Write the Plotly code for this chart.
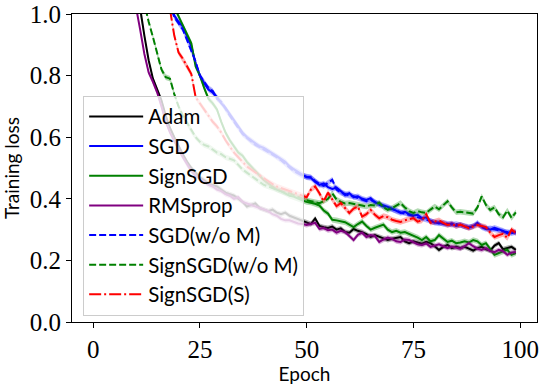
import plotly.graph_objects as go

epochs = list(range(100))

adam = [
    2.35, 2.15, 1.97, 1.81, 1.67, 1.54, 1.43, 1.32, 1.22, 1.14,
    1.08, 1.02, 0.93, 0.85, 0.79, 0.755, 0.72, 0.67, 0.63, 0.60,
    0.57, 0.545, 0.52, 0.50, 0.485, 0.47, 0.46, 0.45, 0.445, 0.44,
    0.43, 0.42, 0.415, 0.41, 0.40, 0.39, 0.375, 0.38, 0.385, 0.37,
    0.365, 0.36, 0.365, 0.355, 0.35, 0.355, 0.345, 0.34, 0.335, 0.33,
    0.325, 0.318, 0.336, 0.312, 0.308, 0.305, 0.310, 0.300, 0.304, 0.292,
    0.290, 0.302, 0.296, 0.292, 0.285, 0.276, 0.282, 0.276, 0.272, 0.266,
    0.270, 0.274, 0.276, 0.262, 0.256, 0.262, 0.258, 0.254, 0.260, 0.256,
    0.246, 0.234, 0.244, 0.250, 0.240, 0.244, 0.240, 0.244, 0.238, 0.232,
    0.240, 0.244, 0.236, 0.232, 0.248, 0.256, 0.236, 0.240, 0.244, 0.234,
]
sgd = [
    2.40, 2.25, 2.12, 2.00, 1.89, 1.79, 1.70, 1.61, 1.53, 1.46,
    1.39, 1.33, 1.27, 1.22, 1.17, 1.13, 1.10, 1.07, 1.035, 0.995,
    0.975, 0.96, 0.93, 0.895, 0.84, 0.80, 0.775, 0.755, 0.745, 0.73,
    0.71, 0.695, 0.675, 0.655, 0.635, 0.615, 0.60, 0.59, 0.578, 0.57,
    0.565, 0.556, 0.548, 0.54, 0.53, 0.52, 0.505, 0.495, 0.488, 0.478,
    0.47, 0.468, 0.455, 0.445, 0.450, 0.438, 0.432, 0.436, 0.425, 0.412,
    0.418, 0.405, 0.408, 0.400, 0.396, 0.402, 0.388, 0.384, 0.380, 0.374,
    0.368, 0.360, 0.354, 0.358, 0.350, 0.346, 0.348, 0.337, 0.340, 0.328,
    0.322, 0.324, 0.318, 0.316, 0.320, 0.312, 0.316, 0.310, 0.306, 0.312,
    0.318, 0.310, 0.304, 0.300, 0.306, 0.302, 0.296, 0.288, 0.294, 0.290,
]
signsgd = [
    2.45, 2.30, 2.17, 2.05, 1.94, 1.84, 1.74, 1.65, 1.57, 1.49,
    1.42, 1.36, 1.30, 1.25, 1.20, 1.16, 1.12, 1.08, 1.05, 1.02,
    0.995, 0.965, 0.935, 0.905, 0.83, 0.80, 0.76, 0.725, 0.71, 0.69,
    0.65, 0.615, 0.59, 0.57, 0.55, 0.54, 0.52, 0.505, 0.49, 0.475,
    0.46, 0.45, 0.44, 0.43, 0.425, 0.418, 0.41, 0.407, 0.40, 0.395,
    0.39, 0.388, 0.384, 0.378, 0.362, 0.352, 0.332, 0.330, 0.326, 0.324,
    0.316, 0.308, 0.318, 0.326, 0.312, 0.300, 0.306, 0.312, 0.316, 0.300,
    0.292, 0.296, 0.290, 0.292, 0.286, 0.282, 0.274, 0.266, 0.276, 0.262,
    0.266, 0.282, 0.270, 0.260, 0.264, 0.256, 0.258, 0.262, 0.258, 0.266,
    0.262, 0.250, 0.256, 0.236, 0.218, 0.224, 0.228, 0.234, 0.218, 0.224,
]
rmsprop = [
    2.30, 2.10, 1.92, 1.76, 1.62, 1.50, 1.39, 1.28, 1.18, 1.10,
    1.03, 0.95, 0.87, 0.81, 0.78, 0.745, 0.70, 0.65, 0.615, 0.585,
    0.56, 0.535, 0.51, 0.49, 0.475, 0.465, 0.455, 0.445, 0.44, 0.43,
    0.425, 0.415, 0.41, 0.40, 0.405, 0.39, 0.385, 0.38, 0.375, 0.37,
    0.365, 0.36, 0.35, 0.345, 0.335, 0.33, 0.33, 0.325, 0.32, 0.318,
    0.315, 0.318, 0.322, 0.302, 0.305, 0.298, 0.300, 0.290, 0.296, 0.292,
    0.280, 0.266, 0.283, 0.290, 0.276, 0.282, 0.279, 0.260, 0.268, 0.274,
    0.270, 0.262, 0.260, 0.268, 0.266, 0.258, 0.252, 0.250, 0.255, 0.244,
    0.248, 0.252, 0.246, 0.240, 0.245, 0.241, 0.238, 0.246, 0.256, 0.246,
    0.238, 0.234, 0.240, 0.230, 0.227, 0.234, 0.230, 0.218, 0.226, 0.227,
]
sgd_wo_m = [
    2.38, 2.24, 2.11, 1.99, 1.88, 1.78, 1.69, 1.60, 1.52, 1.45,
    1.38, 1.32, 1.26, 1.21, 1.16, 1.12, 1.09, 1.06, 1.03, 0.99,
    0.97, 0.95, 0.915, 0.88, 0.845, 0.80, 0.78, 0.76, 0.75, 0.725,
    0.715, 0.69, 0.67, 0.65, 0.63, 0.61, 0.598, 0.585, 0.575, 0.568,
    0.56, 0.552, 0.545, 0.535, 0.525, 0.515, 0.502, 0.49, 0.482, 0.475,
    0.472, 0.470, 0.458, 0.448, 0.442, 0.452, 0.462, 0.430, 0.420, 0.416,
    0.410, 0.408, 0.402, 0.398, 0.392, 0.396, 0.390, 0.380, 0.376, 0.372,
    0.366, 0.362, 0.356, 0.352, 0.350, 0.344, 0.342, 0.338, 0.334, 0.330,
    0.324, 0.320, 0.322, 0.318, 0.316, 0.318, 0.314, 0.312, 0.308, 0.310,
    0.322, 0.308, 0.302, 0.304, 0.300, 0.298, 0.294, 0.292, 0.288, 0.292,
]
signsgd_wo_m = [
    2.40, 2.20, 2.02, 1.86, 1.72, 1.60, 1.49, 1.39, 1.30, 1.22,
    1.15, 1.09, 1.03, 0.975, 0.925, 0.87, 0.82, 0.795, 0.79, 0.74,
    0.70, 0.67, 0.645, 0.62, 0.60, 0.585, 0.575, 0.57, 0.56, 0.55,
    0.545, 0.535, 0.53, 0.525, 0.51, 0.495, 0.485, 0.475, 0.465, 0.455,
    0.445, 0.44, 0.435, 0.43, 0.425, 0.42, 0.418, 0.412, 0.405, 0.40,
    0.395, 0.392, 0.390, 0.386, 0.392, 0.400, 0.418, 0.398, 0.390, 0.385,
    0.386, 0.384, 0.380, 0.378, 0.375, 0.380, 0.378, 0.388, 0.372, 0.364,
    0.370, 0.378, 0.386, 0.372, 0.360, 0.354, 0.360, 0.356, 0.354, 0.365,
    0.375, 0.366, 0.378, 0.392, 0.372, 0.356, 0.358, 0.356, 0.354, 0.352,
    0.372, 0.408, 0.380, 0.364, 0.372, 0.350, 0.340, 0.362, 0.338, 0.356,
]
signsgd_s = [
    2.35, 2.20, 2.06, 1.94, 1.83, 1.73, 1.64, 1.55, 1.47, 1.40,
    1.34, 1.28, 1.23, 1.18, 1.14, 1.10, 1.06, 1.03, 1.015, 0.93,
    0.875, 0.855, 0.83, 0.805, 0.73, 0.71, 0.69, 0.67, 0.65, 0.635,
    0.615, 0.59, 0.57, 0.55, 0.535, 0.52, 0.505, 0.495, 0.485, 0.475,
    0.465, 0.455, 0.448, 0.44, 0.435, 0.43, 0.425, 0.42, 0.415, 0.41,
    0.405, 0.430, 0.440, 0.418, 0.392, 0.420, 0.398, 0.376, 0.386, 0.370,
    0.354, 0.368, 0.375, 0.342, 0.350, 0.364, 0.348, 0.337, 0.344, 0.340,
    0.332, 0.328, 0.325, 0.330, 0.334, 0.337, 0.326, 0.330, 0.350, 0.322,
    0.326, 0.330, 0.322, 0.315, 0.318, 0.312, 0.316, 0.310, 0.305, 0.310,
    0.315, 0.312, 0.308, 0.290, 0.276, 0.282, 0.286, 0.273, 0.300, 0.289,
]

# spread of the shaded band around each mean curve
band = {'Adam': 0.008, 'SGD': 0.009, 'SignSGD': 0.009, 'RMSprop': 0.008,
        'SGD(w/o M)': 0.009, 'SignSGD(w/o M)': 0.009, 'SignSGD(S)': 0.009}

series = [
    ('Adam', adam, (0, 0, 0), 'solid'),
    ('SGD', sgd, (0, 0, 255), 'solid'),
    ('SignSGD', signsgd, (0, 128, 0), 'solid'),
    ('RMSprop', rmsprop, (128, 0, 128), 'solid'),
    ('SGD(w/o M)', sgd_wo_m, (0, 0, 255), '7px,3px'),
    ('SignSGD(w/o M)', signsgd_wo_m, (0, 128, 0), '7px,3px'),
    ('SignSGD(S)', signsgd_s, (255, 0, 0), '12px,3px,2px,3px'),
]

fig = go.Figure()
for name, vals, (r, g, b), dash in series:
    s = band[name]
    upper = [v + s for v in vals]
    lower = [v - s for v in vals]
    fig.add_trace(go.Scatter(
        x=epochs + epochs[::-1], y=upper + lower[::-1],
        fill='toself', fillcolor='rgba(%d,%d,%d,0.3)' % (r, g, b),
        line=dict(width=0), mode='lines', hoverinfo='skip', showlegend=False))
    fig.add_trace(go.Scatter(
        x=epochs, y=vals, mode='lines', name=name, legendgroup=name,
        line=dict(color='rgb(%d,%d,%d)' % (r, g, b), width=2, dash=dash)))

serif = 'Liberation Serif'
sans = 'Lato'

fig.update_layout(
    width=543, height=385,
    margin=dict(l=72, r=6, t=14, b=63),
    plot_bgcolor='white', paper_bgcolor='white',
    font=dict(family=sans, color='black'),
    legend=dict(
        x=0.024, y=0.735, xanchor='left', yanchor='top',
        bgcolor='rgba(255,255,255,0.8)', bordercolor='#cccccc', borderwidth=1,
        font=dict(family=sans, size=20.5, color='black'),
        tracegroupgap=0, itemwidth=54,
    ),
    xaxis=dict(
        range=[-4.95, 103.95], tickvals=[0, 25, 50, 75, 100],
        ticks='outside', ticklen=5, tickcolor='black', automargin=False,
        showline=True, linecolor='black', linewidth=1.2, mirror=True,
        showgrid=False, zeroline=False,
        tickfont=dict(family=serif, size=25),
        title=dict(text='Epoch', font=dict(family=sans, size=19), standoff=4),
    ),
    yaxis=dict(
        range=[0, 1], tickvals=[0, 0.2, 0.4, 0.6, 0.8, 1.0], tickformat='.1f',
        ticks='outside', ticklen=5, tickcolor='black', automargin=False,
        showline=True, linecolor='black', linewidth=1.2, mirror=True,
        showgrid=False, zeroline=False,
        tickfont=dict(family=serif, size=25),
        title=dict(text='Training loss', font=dict(family=sans, size=19), standoff=6),
    ),
)

# the page body has a default 8px margin; drop it so the figure fills the window
fig.write_html("out.html", config={'displayModeBar': False},
               post_script="document.body.style.margin='0';")
